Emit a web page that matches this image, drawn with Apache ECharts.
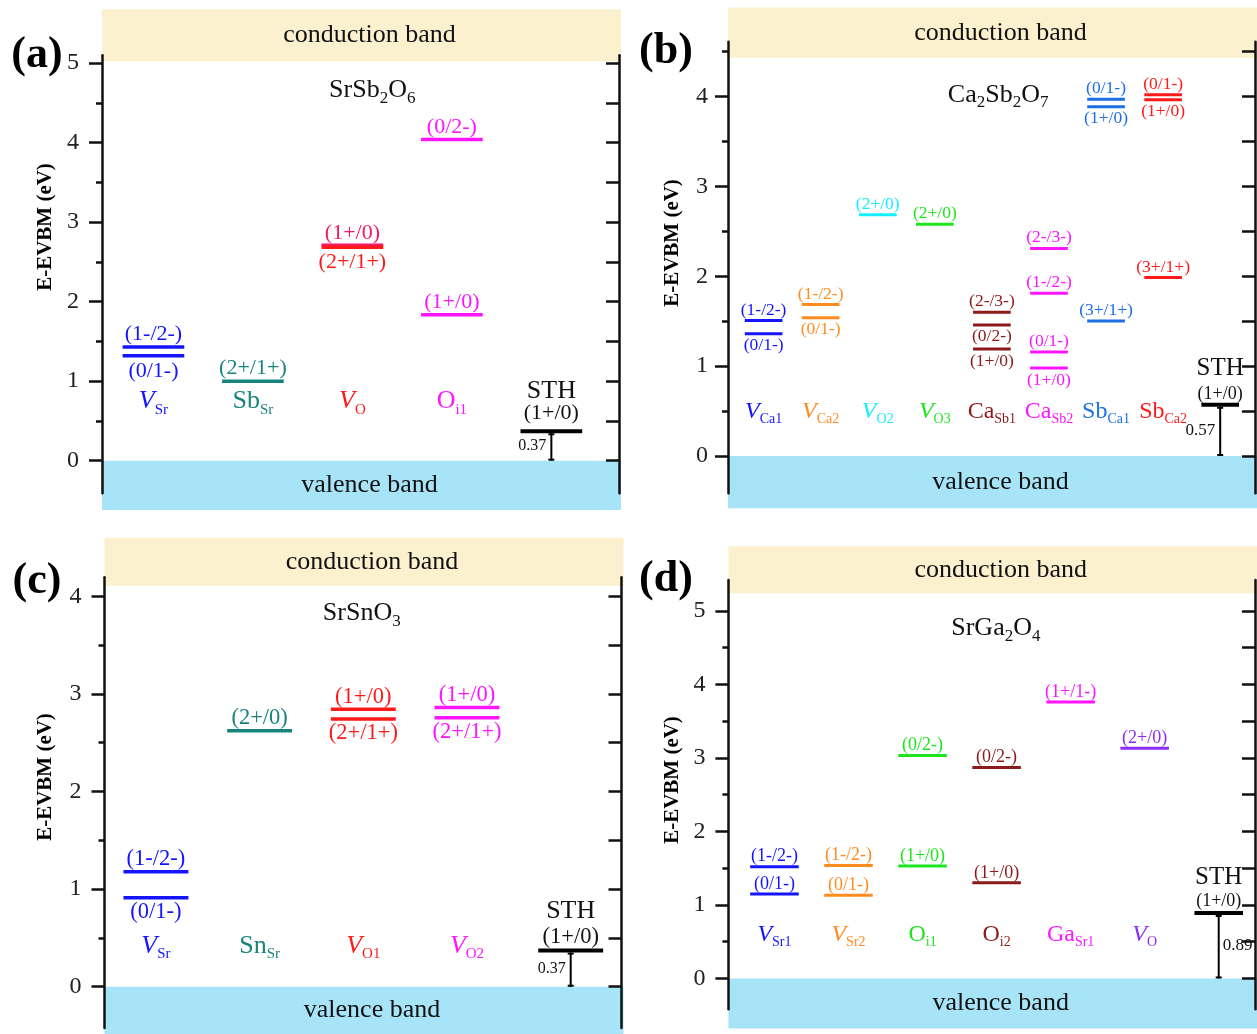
<!DOCTYPE html>
<html><head><meta charset="utf-8">
<script src="https://cdn.jsdelivr.net/npm/echarts@6/dist/echarts.min.js"></script>
<style>html,body{margin:0;padding:0;background:#fff}#c{width:1257px;height:1034px}</style>
</head><body><div id="c"></div>
<script>
const SERIF = "'Liberation Serif','Times New Roman',serif";

// ================= DATA =================
const panelLetters = ['(a)', '(b)', '(c)', '(d)'];
const compounds = ['SrSb2O6', 'Ca2Sb2O7', 'SrSnO3', 'SrGa2O4'];
const cbmEnergies = [5.02, 4.43, 4.105, 5.24];     // conduction band minimum (eV)
const sthEnergies = [0.37, 0.57, 0.37, 0.89];      // self-trapped hole (1+/0) level
const sthLabel = 'STH';
const sthTransition = '(1+/0)';

// tick labels
const ticksA = [0, 1, 2, 3, 4, 5];
const ticksB = [0, 1, 2, 3, 4];
const ticksC = [0, 1, 2, 3, 4];
const ticksD = [0, 1, 2, 3, 4, 5];
const halfTicksA = [0, 0.5, 1, 1.5, 2, 2.5, 3, 3.5, 4, 4.5, 5];
const halfTicksB = [0, 0.5, 1, 1.5, 2, 2.5, 3, 3.5, 4, 4.5];
const halfTicksC = [0, 0.5, 1, 1.5, 2, 2.5, 3, 3.5, 4];
const halfTicksD = [0, 0.5, 1, 1.5, 2, 2.5, 3, 3.5, 4, 4.5, 5];

// defects (name_subscript)
const defectsA = ['V_Sr', 'Sb_Sr', 'V_O', 'O_i1'];
const defectsB = ['V_Ca1', 'V_Ca2', 'V_O2', 'V_O3', 'Ca_Sb1', 'Ca_Sb2', 'Sb_Ca1', 'Sb_Ca2'];
const defectsC = ['V_Sr', 'Sn_Sr', 'V_O1', 'V_O2'];
const defectsD = ['V_Sr1', 'V_Sr2', 'O_i1', 'O_i2', 'Ga_Sr1', 'V_O'];

// transition levels: [defect index, energy (eV), transition]
const levelsA = [
  [0, 1.43, '(1-/2-)'], [0, 1.32, '(0/1-)'],
  [1, 1.00, '(2+/1+)'],
  [2, 2.71, '(1+/0)'], [2, 2.685, '(2+/1+)'],
  [3, 4.04, '(0/2-)'], [3, 1.835, '(1+/0)']
];
const levelsB = [
  [0, 1.507, '(1-/2-)'], [0, 1.359, '(0/1-)'],
  [1, 1.685, '(1-/2-)'], [1, 1.537, '(0/1-)'],
  [2, 2.684, '(2+/0)'],
  [3, 2.58, '(2+/0)'],
  [4, 1.60, '(2-/3-)'], [4, 1.459, '(0/2-)'], [4, 1.19, '(1+/0)'],
  [5, 2.31, '(2-/3-)'], [5, 1.81, '(1-/2-)'], [5, 1.158, '(0/1-)'], [5, 0.98, '(1+/0)'],
  [6, 3.97, '(0/1-)'], [6, 3.886, '(1+/0)'], [6, 1.503, '(3+/1+)'],
  [7, 4.02, '(0/1-)'], [7, 3.964, '(1+/0)'], [7, 1.985, '(3+/1+)']
];
const levelsC = [
  [0, 1.178, '(1-/2-)'], [0, 0.912, '(0/1-)'],
  [1, 2.623, '(2+/0)'],
  [2, 2.842, '(1+/0)'], [2, 2.743, '(2+/1+)'],
  [3, 2.862, '(1+/0)'], [3, 2.756, '(2+/1+)']
];
const levelsD = [
  [0, 1.52, '(1-/2-)'], [0, 1.147, '(0/1-)'],
  [1, 1.537, '(1-/2-)'], [1, 1.13, '(0/1-)'],
  [2, 3.034, '(0/2-)'], [2, 1.528, '(1+/0)'],
  [3, 2.87, '(0/2-)'], [3, 1.30, '(1+/0)'],
  [4, 3.76, '(1+/1-)'],
  [5, 3.13, '(2+/0)']
];

// label placement (layout, not data)
const sidesA = ['up', 'down', 'up', 'up', 'down', 'up', 'up'];
const sidesB = ['up', 'down', 'up', 'down', 'up', 'up', 'up', 'down', 'down', 'up', 'up', 'up', 'down', 'up', 'down', 'up', 'up', 'down', 'up'];
const sidesC = ['up', 'down', 'up', 'up', 'down', 'up', 'down'];
const sidesD = ['up', 'up', 'up', 'up', 'up', 'up', 'up', 'up', 'up', 'up'];

// colours (style)
const colorsA = ['#1414ff', '#17847c', '#ff1a1a', '#ff14ff'];
const colorsB = ['#1414ff', '#ff8c1e', '#14eeff', '#1ee61e', '#8b1a1a', '#ff14ff', '#1e6ee6', '#ff1a1a'];
const colorsC = ['#1414ff', '#17847c', '#ff1a1a', '#ff14ff'];
const colorsD = ['#1414ff', '#ff8c1e', '#1ee61e', '#8b1a1a', '#ff14ff', '#8c2cf5'];
const levelColorA = {3: '#f5176a'};

const CB_COLOR = '#fbf1cf';
const VB_COLOR = '#a8e4f8';

// ================= LAYOUT =================
const P = [
  {grid: {left: 102, top: 55.25, width: 517, height: 438}, x: [-0.517, 4.68], y: [-0.41, 5.1],
   cbTop: 5.68, vbBot: -0.62, hw: 0.31, lw: 3.5, lblFs: 22, up: 12.5, down: 15,
   nameFs: 26, subFs: 15, nameY: 0.74, compXY: [2.2, 4.66],
   sthOff: [18.5, 40], sthFs: 22, sthBig: 26, valFs: 16, valRight: false, labMargin: 23,
   letterXY: [37, 56], titleXY: [46, 227],
   defects: defectsA, levels: levelsA, sides: sidesA, colors: colorsA, lvColors: levelColorA,
   ticks: ticksA, half: halfTicksA},
  {grid: {left: 728, top: 41.7, width: 527, height: 451.6}, x: [-0.624, 8.61], y: [-0.415, 4.61],
   cbTop: 4.99, vbBot: -0.58, hw: 0.33, lw: 3, lblFs: 17.5, up: 10.5, down: 12,
   nameFs: 24, subFs: 14, nameY: 0.49, compXY: [4.11, 4.02],
   sthOff: [11, 36.7], sthFs: 18, sthBig: 25, valFs: 17, valRight: false, labMargin: 20,
   letterXY: [666, 52], titleXY: [673, 243],
   defects: defectsB, levels: levelsB, sides: sidesB, colors: colorsB, lvColors: {},
   ticks: ticksB, half: halfTicksB},
  {grid: {left: 104.5, top: 577.3, width: 517, height: 450.7}, x: [-0.496, 4.49], y: [-0.423, 4.195],
   cbTop: 4.60, vbBot: -0.49, hw: 0.313, lw: 3.5, lblFs: 22.5, up: 12.5, down: 14,
   nameFs: 26, subFs: 15, nameY: 0.41, compXY: [1.985, 3.83],
   sthOff: [14, 39], sthFs: 22.5, sthBig: 26, valFs: 16, valRight: false, labMargin: 23,
   letterXY: [37, 582], titleXY: [46, 777],
   defects: defectsC, levels: levelsC, sides: sidesC, colors: colorsC, lvColors: {},
   ticks: ticksC, half: halfTicksC},
  {grid: {left: 728.4, top: 580, width: 526.6, height: 429.3}, x: [-0.622, 6.49], y: [-0.42, 5.42],
   cbTop: 5.88, vbBot: -0.68, hw: 0.328, lw: 3, lblFs: 18, up: 10, down: 12,
   nameFs: 24, subFs: 14, nameY: 0.59, compXY: [2.99, 4.77],
   sthOff: [11.6, 36], sthFs: 18, sthBig: 25, valFs: 17, valRight: true, labMargin: 23,
   letterXY: [666, 580], titleXY: [673, 780],
   defects: defectsD, levels: levelsD, sides: sidesD, colors: colorsD, lvColors: {},
   ticks: ticksD, half: halfTicksD}
];

function nameRich(d) {
  const [m, s] = d.split('_');
  return '{' + (m === 'V' ? 'it' : 'm') + '|' + m + '}{sub|' + s + '}';
}
function compoundRich(c) {
  return c.replace(/([A-Za-z]+)|(\d+)/g, (all, a, n) => a ? '{m|' + a + '}' : '{sub|' + n + '}');
}
// rich styles with lowered subscripts: main text top-aligned, subscript bottom-aligned in a taller line
function richStyles(fs, sfs, drop) {
  return {
    m: {fontSize: fs, fontFamily: SERIF, lineHeight: fs + drop, verticalAlign: 'top'},
    it: {fontSize: fs, fontFamily: SERIF, fontStyle: 'italic', lineHeight: fs + drop, verticalAlign: 'top'},
    sub: {fontSize: sfs, fontFamily: SERIF, lineHeight: sfs, verticalAlign: 'bottom'}
  };
}

const grids = [], xAxes = [], yAxes = [], series = [], graphics = [];
const AX = '#111';

P.forEach((p, i) => {
  grids.push(Object.assign({containLabel: false}, p.grid));
  xAxes.push({type: 'value', gridIndex: i, min: p.x[0], max: p.x[1], show: false});
  // left axis: line, major ticks, labels
  yAxes.push({type: 'value', gridIndex: i, position: 'left', min: p.y[0], max: p.y[1], z: 10,
    splitLine: {show: false},
    axisLine: {show: true, onZero: false, lineStyle: {color: AX, width: 2.5}},
    axisTick: {show: true, inside: false, length: 13, customValues: p.ticks, lineStyle: {color: AX, width: 2.5}},
    axisLabel: {show: true, customValues: p.ticks, margin: p.labMargin, fontSize: 24, fontFamily: SERIF, color: '#222'}
  });
  // left axis: minor ticks
  yAxes.push({type: 'value', gridIndex: i, position: 'left', min: p.y[0], max: p.y[1], z: 10,
    splitLine: {show: false}, axisLine: {show: false, onZero: false}, axisLabel: {show: false},
    axisTick: {show: true, inside: false, length: 6, customValues: p.half, lineStyle: {color: AX, width: 2.5}}
  });
  // right axis: inward ticks every 0.5
  yAxes.push({type: 'value', gridIndex: i, position: 'right', min: p.y[0], max: p.y[1], z: 10,
    splitLine: {show: false}, axisLabel: {show: false},
    axisLine: {show: true, onZero: false, lineStyle: {color: AX, width: 2.5}},
    axisTick: {show: true, inside: true, length: 13, customValues: p.half, lineStyle: {color: AX, width: 2.5}}
  });
  const yi = i * 3;

  // bands
  series.push({type: 'custom', xAxisIndex: i, yAxisIndex: yi, clip: false, z: 1, silent: true,
    data: [[0, cbmEnergies[i]]],
    renderItem(params, api) {
      const cs = params.coordSys;
      const yC = api.coord([0, api.value(1)])[1];
      const yCt = api.coord([0, p.cbTop])[1];
      const y0 = api.coord([0, 0])[1];
      const yVb = api.coord([0, p.vbBot])[1];
      const cx = cs.x + cs.width / 2 + 9;
      return {type: 'group', children: [
        {type: 'rect', shape: {x: cs.x, y: yCt, width: cs.width + 2, height: yC - yCt}, style: {fill: CB_COLOR}},
        {type: 'rect', shape: {x: cs.x, y: y0, width: cs.width + 2, height: yVb - y0}, style: {fill: VB_COLOR}},
        {type: 'text', style: {text: 'conduction band', x: cx, y: (yC + yCt) / 2, fill: '#111', fontSize: 26, fontFamily: SERIF, align: 'center', verticalAlign: 'middle'}},
        {type: 'text', style: {text: 'valence band', x: cx, y: (y0 + yVb) / 2, fill: '#111', fontSize: 26, fontFamily: SERIF, align: 'center', verticalAlign: 'middle'}}
      ]};
    }
  });

  // compound name
  series.push({type: 'custom', xAxisIndex: i, yAxisIndex: yi, clip: false, z: 3, silent: true,
    data: [[p.compXY[0], p.compXY[1]]],
    renderItem(params, api) {
      const c = api.coord([api.value(0), api.value(1)]);
      return {type: 'text', style: {text: compoundRich(compounds[i]), x: c[0], y: c[1] + 2, fill: '#111', align: 'center', verticalAlign: 'middle',
        rich: richStyles(26, 17, 3.5)}};
    }
  });

  // transition levels
  series.push({type: 'custom', xAxisIndex: i, yAxisIndex: yi, clip: false, z: 5, silent: true,
    data: p.levels.map((l, k) => [l[0], l[1], k]),
    renderItem(params, api) {
      const k = api.value(2), x = api.value(0), e = api.value(1);
      const lv = p.levels[k];
      const a = api.coord([x - p.hw, e]), b = api.coord([x + p.hw, e]);
      const col = p.lvColors[k] || p.colors[lv[0]];
      const up = p.sides[k] === 'up';
      return {type: 'group', children: [
        {type: 'line', shape: {x1: a[0], y1: a[1], x2: b[0], y2: b[1]}, style: {stroke: col, lineWidth: p.lw}},
        {type: 'text', style: {text: lv[2], x: (a[0] + b[0]) / 2, y: a[1] + (up ? -p.up : p.down), fill: col,
          fontSize: p.lblFs, fontFamily: SERIF, align: 'center', verticalAlign: 'middle'}}
      ]};
    }
  });

  // defect names
  series.push({type: 'custom', xAxisIndex: i, yAxisIndex: yi, clip: false, z: 5, silent: true,
    data: p.defects.map((d, k) => [k, p.nameY]),
    renderItem(params, api) {
      const k = api.value(0);
      const c = api.coord([k, api.value(1)]);
      return {type: 'text', style: {text: nameRich(p.defects[k]), x: c[0], y: c[1] + 1, fill: p.colors[k], align: 'center', verticalAlign: 'middle',
        rich: richStyles(p.nameFs, p.subFs, 2.5)}};
    }
  });

  // STH level with bar to VBM
  series.push({type: 'custom', xAxisIndex: i, yAxisIndex: yi, clip: false, z: 6, silent: true,
    data: [[p.defects.length, sthEnergies[i]]],
    renderItem(params, api) {
      const x = api.value(0), e = api.value(1);
      const a = api.coord([x - p.hw, e]), b = api.coord([x + p.hw, e]);
      const top = api.coord([x, e]), bot = api.coord([x, 0]), mid = api.coord([x, e / 2]);
      const ch = 3;
      const valTxt = e.toFixed(2);
      return {type: 'group', children: [
        {type: 'line', shape: {x1: a[0], y1: a[1], x2: b[0], y2: b[1]}, style: {stroke: '#000', lineWidth: 4}},
        {type: 'line', shape: {x1: top[0], y1: top[1] + 2, x2: bot[0], y2: bot[1]}, style: {stroke: '#000', lineWidth: 2}},
        {type: 'line', shape: {x1: top[0] - ch, y1: top[1] + 3, x2: top[0] + ch, y2: top[1] + 3}, style: {stroke: '#000', lineWidth: 2}},
        {type: 'line', shape: {x1: bot[0] - ch, y1: bot[1] - 1, x2: bot[0] + ch, y2: bot[1] - 1}, style: {stroke: '#000', lineWidth: 2}},
        {type: 'text', style: {text: sthTransition, x: top[0], y: top[1] - p.sthOff[0], fill: '#111', fontSize: p.sthFs, fontFamily: SERIF, align: 'center', verticalAlign: 'middle'}},
        {type: 'text', style: {text: sthLabel, x: top[0], y: top[1] - p.sthOff[1], fill: '#111', fontSize: p.sthBig, fontFamily: SERIF, align: 'center', verticalAlign: 'middle'}},
        {type: 'text', style: {text: valTxt, x: top[0] + (p.valRight ? 4 : -5), y: mid[1], fill: '#111', fontSize: p.valFs, fontFamily: SERIF,
          align: p.valRight ? 'left' : 'right', verticalAlign: 'middle'}}
      ]};
    }
  });

  // panel letter and axis title
  graphics.push({type: 'text', x: p.letterXY[0], y: p.letterXY[1], z: 20,
    style: {text: panelLetters[i], font: "bold 44px 'Liberation Serif'", fill: '#000', align: 'center', verticalAlign: 'middle'}});
  graphics.push({type: 'text', x: p.titleXY[0], y: p.titleXY[1], rotation: Math.PI / 2, z: 20,
    style: {text: 'E-EVBM (eV)', font: "bold 21px 'Liberation Serif'", fill: '#000', align: 'center', verticalAlign: 'middle'}});
});

const chart = echarts.init(document.getElementById('c'), null, {renderer: 'canvas'});
chart.setOption({
  animation: false,
  backgroundColor: '#fff',
  grid: grids, xAxis: xAxes, yAxis: yAxes, series: series, graphic: graphics
});
</script></body></html>
